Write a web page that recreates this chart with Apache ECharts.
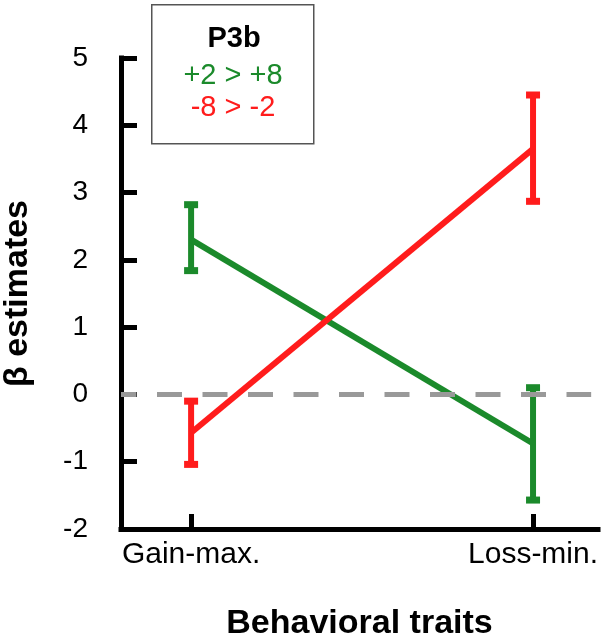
<!DOCTYPE html>
<html>
<head>
<meta charset="utf-8">
<script src="https://cdn.jsdelivr.net/npm/echarts@6/dist/echarts.min.js"></script>
<style>
html,body{margin:0;padding:0;background:#fff;}
#chart{width:602px;height:639px;}
</style>
</head>
<body>
<div id="chart"></div>
<script>
// ---- data ----
const categories = ['Gain-max.', 'Loss-min.'];
const categoryPos = [0, 1];
const greenMean = [2.3, -0.73];
const greenLow  = [1.84, -1.57];
const greenHigh = [2.82, 0.1];
const redMean = [-0.57, 3.65];
const redLow  = [-1.04, 2.87];
const redHigh = [-0.1, 4.45];
const yMin = -2, yMax = 5, yStep = 1;
const zeroLine = [[-0.205, 0], [1.17, 0]];
const legendTitle = 'P3b';
const legendGreen = '+2 > +8';
const legendRed = '-8 > -2';
const xTitle = 'Behavioral traits';
const yTitle = 'β estimates';

const GREEN = '#1b8a2b';
const RED = '#ff1c1c';
const FONT = '"Liberation Sans", Arial, Helvetica, sans-serif';

function pairs(xs, ys) { return xs.map((x, i) => [x, ys[i]]); }
function bars(xs, lo, hi) { return xs.map((x, i) => [x, lo[i], hi[i]]); }

function errItem(params, api) {
  const x = api.value(0), lo = api.value(1), hi = api.value(2);
  const pLo = api.coord([x, lo]), pHi = api.coord([x, hi]);
  const color = api.visual('color');
  return {
    type: 'group',
    children: [
      { type: 'line', shape: { x1: pLo[0], y1: pLo[1], x2: pHi[0], y2: pHi[1] }, style: { stroke: color, lineWidth: 6 } },
      { type: 'rect', shape: { x: pHi[0] - 7, y: pHi[1] - 3.5, width: 14, height: 7 }, style: { fill: color } },
      { type: 'rect', shape: { x: pLo[0] - 7, y: pLo[1] - 3.5, width: 14, height: 7 }, style: { fill: color } }
    ]
  };
}

const chart = echarts.init(document.getElementById('chart'), null, { renderer: 'canvas' });
chart.setOption({
  animation: false,
  backgroundColor: '#fff',
  grid: { left: 121, right: 4, top: 58, bottom: 110, containLabel: false, outerBoundsMode: 'none' },
  xAxis: {
    type: 'value', min: -0.205, max: 1.19,
    splitLine: { show: false },
    axisLine: { show: true, onZero: false, lineStyle: { color: '#000', width: 5, cap: 'square' } },
    axisTick: { show: true, inside: true, length: 15, customValues: categoryPos, lineStyle: { color: '#000', width: 5 } },
    axisLabel: { show: true, customValues: categoryPos, margin: 11, color: '#000', fontSize: 30, fontFamily: FONT,
      formatter: v => categories[Math.round(v)] },
    name: xTitle, nameLocation: 'middle', nameGap: 78,
    nameTextStyle: { color: '#000', fontSize: 34, fontWeight: 'bold', fontFamily: FONT }
  },
  yAxis: {
    type: 'value', min: yMin, max: yMax, interval: yStep,
    splitLine: { show: false },
    axisLine: { show: true, onZero: false, lineStyle: { color: '#000', width: 5, cap: 'square' } },
    axisTick: { show: true, inside: true, length: 16, lineStyle: { color: '#000', width: 5 } },
    axisLabel: { margin: 33, color: '#000', fontSize: 28, fontFamily: FONT },
    name: yTitle, nameLocation: 'middle', nameGap: 86, nameRotate: 90,
    nameTextStyle: { color: '#000', fontSize: 34, fontWeight: 'bold', fontFamily: FONT }
  },
  series: [
    { type: 'line', data: pairs(categoryPos, greenMean), symbol: 'none', lineStyle: { color: GREEN, width: 6 }, z: 2 },
    { type: 'line', data: pairs(categoryPos, redMean), symbol: 'none', lineStyle: { color: RED, width: 6 }, z: 2 },
    { type: 'custom', data: bars(categoryPos, greenLow, greenHigh), renderItem: errItem, itemStyle: { color: GREEN }, z: 2 },
    { type: 'custom', data: bars(categoryPos, redLow, redHigh), renderItem: errItem, itemStyle: { color: RED }, z: 2 },
    { type: 'line', data: zeroLine, symbol: 'none', z: 4,
      lineStyle: { color: '#999999', width: 5, type: [25, 20.5], dashOffset: 9.5, cap: 'butt' } }
  ],
  graphic: [
    { type: 'rect', left: 151, top: 4, shape: { width: 162, height: 139 },
      style: { fill: '#fff', stroke: '#555', lineWidth: 1.5 }, z: 10 },
    { type: 'text', x: 234, y: 39, z: 11,
      style: { text: legendTitle, fill: '#000', font: 'bold 29px ' + FONT, textAlign: 'center', textVerticalAlign: 'middle' } },
    { type: 'text', x: 233, y: 76, z: 11,
      style: { text: legendGreen, fill: GREEN, font: '29px ' + FONT, textAlign: 'center', textVerticalAlign: 'middle' } },
    { type: 'text', x: 233, y: 108, z: 11,
      style: { text: legendRed, fill: RED, font: '29px ' + FONT, textAlign: 'center', textVerticalAlign: 'middle' } }
  ]
});
</script>
</body>
</html>
